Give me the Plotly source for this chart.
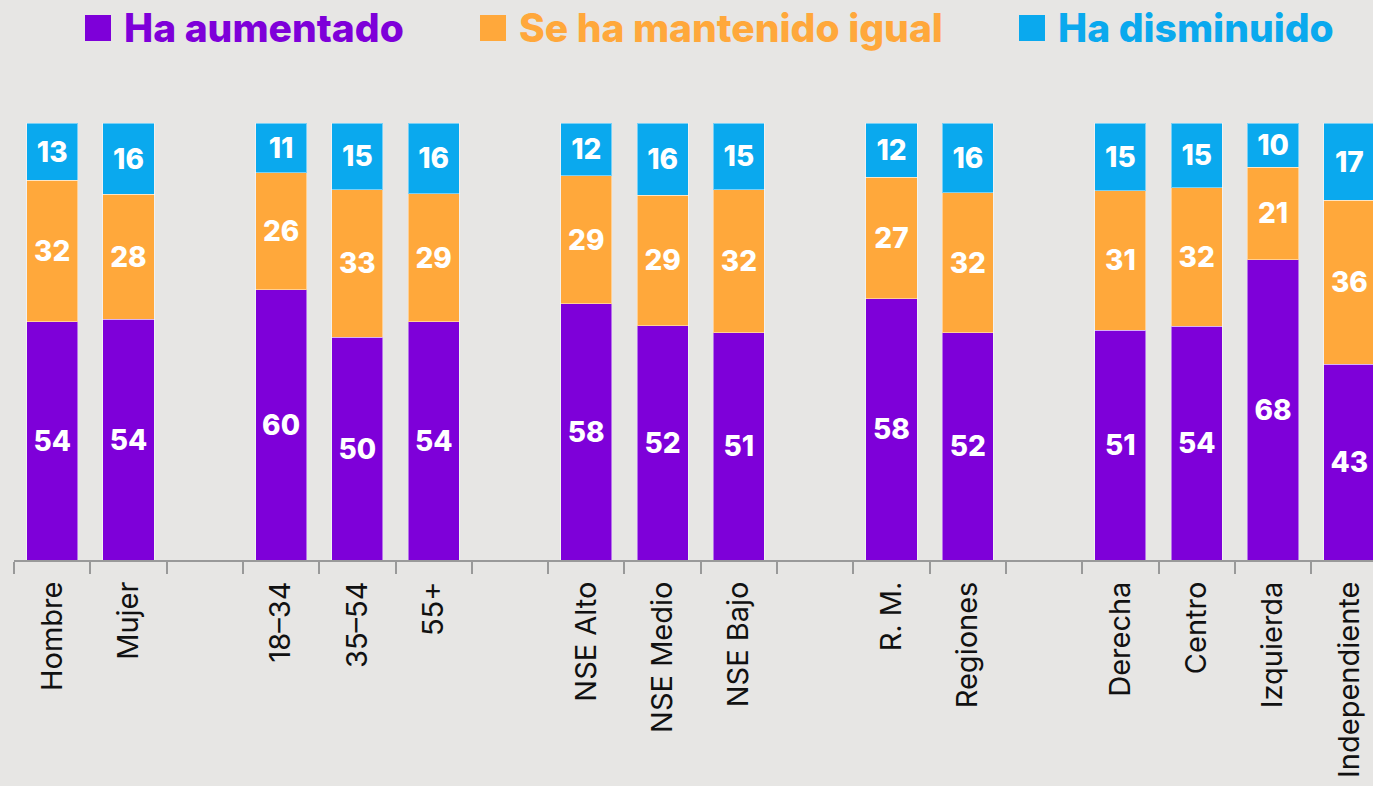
import plotly.graph_objects as go

# ---- data ----
groups = [
    ["Hombre", "Mujer"],
    ["18–34", "35–54", "55+"],
    ["NSE Alto", "NSE Medio", "NSE Bajo"],
    ["R. M.", "Regiones"],
    ["Derecha", "Centro", "Izquierda", "Independiente"],
]
aumentado = [54, 54, 60, 50, 54, 58, 52, 51, 58, 52, 51, 54, 68, 43]
igual = [32, 28, 26, 33, 29, 29, 29, 32, 27, 32, 31, 32, 21, 36]
disminuido = [13, 16, 11, 15, 16, 12, 16, 15, 12, 16, 15, 15, 10, 17]
series_names = ["Ha aumentado", "Se ha mantenido igual", "Ha disminuido"]
colors = ["#7e00d9", "#ffa83b", "#0aa9ee"]

# ---- build category axis with blank spacer slots between groups ----
categories = []
index_map = []  # position in data arrays, or None for spacer
k = 0
for gi, g in enumerate(groups):
    if gi > 0:
        categories.append(" " * gi)
        index_map.append(None)
    for name in g:
        categories.append(name)
        index_map.append(k)
        k += 1


def expand(vals):
    return [None if i is None else vals[i] for i in index_map]


BG = "#e7e6e4"
W, H = 1373, 786
ML, MT, MB = 14, 123, 226
PW = W - ML
PH = H - MT - MB

fig = go.Figure()
for name, vals, col in zip(series_names, [aumentado, igual, disminuido], colors):
    ev = expand(vals)
    fig.add_trace(go.Bar(
        x=categories, y=ev, name=name,
        marker=dict(color=col, line=dict(color="rgba(255,255,255,0.45)", width=1)),
        text=[None if v is None else str(v) for v in ev],
        texttemplate="%{text}",
        textposition="inside", insidetextanchor="middle", textangle=0,
        textfont=dict(family="Inter", size=28, color="white", weight=800),
        showlegend=False,
        hoverinfo="x+y+name",
    ))

# ---- legend drawn as squares + coloured bold text (pixel positions) ----
def px_x(px):
    return (px - ML) / PW


def px_y(py):
    return (MT + PH - py) / PH


legend_items = [(85, 122), (480, 517), (1019, 1056)]
for (mx, tx), name, col in zip(legend_items, series_names, colors):
    fig.add_shape(type="rect", xref="paper", yref="paper",
                  x0=px_x(mx), x1=px_x(mx + 26), y0=px_y(41), y1=px_y(15),
                  fillcolor=col, line=dict(width=0))
    fig.add_annotation(xref="paper", yref="paper", x=px_x(tx), y=px_y(27),
                       xanchor="left", yanchor="middle", showarrow=False,
                       text=name,
                       font=dict(family="Inter", size=39, color=col, weight=800))

fig.update_layout(
    width=W, height=H,
    paper_bgcolor=BG, plot_bgcolor=BG,
    barmode="stack", barnorm="percent", bargap=0.33,
    margin=dict(l=ML, r=0, t=MT, b=MB),
    xaxis=dict(
        type="category", range=[-0.5, 17.31],
        showline=True, linecolor="#999999", linewidth=2,
        ticks="outside", tickson="boundaries", ticklen=12, tickwidth=2, tickcolor="#999999",
        tickangle=-90, tickfont=dict(family="Inter", size=29, color="#111111"),
        ticklabelstandoff=8,
        showgrid=False, zeroline=False,
    ),
    yaxis=dict(range=[0, 100], visible=False, showgrid=False, zeroline=False),
    uniformtext=dict(minsize=28, mode="show"),
)

fig.write_html("out.html", config={"displayModeBar": False},
               post_script="document.body.style.margin='0px';document.body.style.overflow='hidden';")
